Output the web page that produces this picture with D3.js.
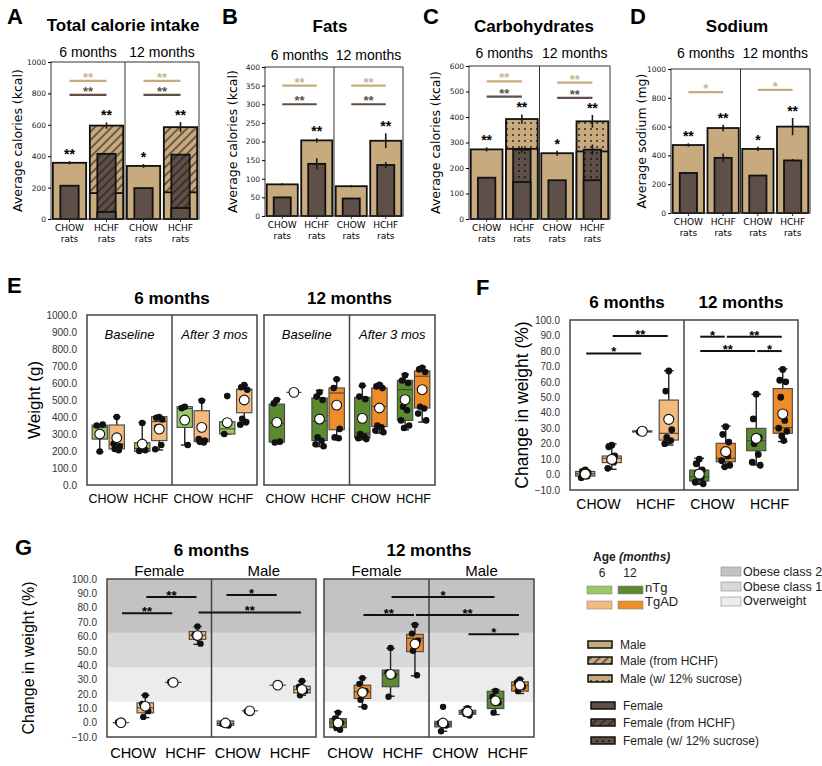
<!DOCTYPE html>
<html>
<head>
<meta charset="utf-8">
<script src="https://cdn.jsdelivr.net/npm/d3@7"></script>
<style>
  body { margin: 0; background: white; }
  svg { font-family: "Liberation Sans", Arial, sans-serif; }
</style>
</head>
<body>
<svg id="fig" width="822" height="766"></svg>
<script>
let edades = ["6 months", "12 months"];
let dietas = ["CHOW", "HCHF"];
let generos = ["nTg", "TgAD"];

// A-D: orden CHOW 6m, HCHF 6m, CHOW 12m, HCHF 12m
let totalMacho = [358, 595, 338, 585];
let totalMachoBase = [358, 165, 338, 170];
let totalMachoErr = [10, 20, 12, 32];
let totalHembra = [212, 415, 197, 410];
let totalHembraBase = [212, 45, 197, 70];
let totalHembraErr = [0, 0, 0, 0];
let totalEstrellas = ["**", "**", "*", "**"];
let totalSigMacho = [[880, "**"], [880, "**"]];
let totalSigHembra = [[790, "**"], [790, "**"]];

let grasaMacho = [85, 203, 80, 202];
let grasaMachoErr = [3, 6, 3, 20];
let grasaHembra = [50, 140, 47, 137];
let grasaHembraErr = [2, 15, 2, 8];
let grasaEstrellas = ["", "**", "", "**"];
let grasaSigMacho = [[350, "**"], [350, "**"]];
let grasaSigHembra = [[300, "**"], [300, "**"]];

let carbMacho = [273, 392, 258, 383];
let carbMachoBase = [273, 275, 258, 265];
let carbMachoErr = [8, 18, 10, 25];
let carbHembra = [162, 272, 152, 272];
let carbHembraBase = [162, 145, 152, 152];
let carbHembraErr = [3, 12, 0, 20];
let carbEstrellas = ["**", "**", "*", "**"];
let carbSigMacho = [[540, "**"], [535, "**"]];
let carbSigHembra = [[480, "**"], [475, "**"]];

let sodioMacho = [472, 590, 445, 600];
let sodioMachoErr = [12, 22, 15, 60];
let sodioHembra = [278, 383, 260, 365];
let sodioHembraErr = [0, 30, 0, 10];
let sodioEstrellas = ["**", "**", "*", "**"];
let sodioSigMacho = [[840, "*"], [855, "*"]];

// E-G: cajas [min, q1, mediana, q3, max, media]; orden CHOW-nTg, CHOW-TgAD, HCHF-nTg, HCHF-TgAD
let peso6Base = [[195, 270, 340, 352, 355, 300], [205, 212, 241, 353, 402, 278], [196, 198, 215, 249, 367, 241], [206, 261, 373, 402, 402, 329]];
let peso6BasePts = [[197, 350, 355], [400, 243, 228, 212, 205], [365, 200, 205], [400, 395, 385, 340, 235, 210]];
let peso6Desp = [[235, 339, 450, 461, 461, 382], [250, 255, 265, 437, 500, 339], [300, 300, 330, 372, 372, 367], [355, 425, 563, 563, 588, 500]];
let peso6DespPts = [[460, 452, 235], [495, 270, 262, 255, 250], [523, 300], [588, 575, 560, 390, 370, 355]];
let peso12Base = [[252, 252, 364, 476, 504, 368], [545, 545, 545, 545, 545, 545], [226, 262, 376, 512, 557, 388], [272, 325, 541, 571, 622, 470]];
let peso12BasePts = [[500, 480, 255, 250], [545], [545, 520, 500, 280, 260, 240, 228], [622, 570, 330, 280, 275]];
let peso12Desp = [[266, 278, 305, 516, 583, 392], [305, 344, 463, 571, 593, 453], [325, 380, 561, 616, 652, 502], [370, 453, 640, 671, 695, 561]];
let peso12DespPts = [[585, 520, 505, 300, 285, 275, 270], [590, 580, 570, 350, 340, 320, 310], [645, 615, 600, 460, 440, 380, 350, 335], [690, 680, 665, 460, 450, 420, 380]];

let cambio6 = [[-2, -1, 0.5, 2, 3, 0.3], [3.4, 7.7, 10.5, 12, 19.8, 9.8], [27.5, 27.5, 28, 28.2, 28.2, 28], [19.1, 22.3, 26.7, 48.2, 67.2, 35.7]];
let cambio6Pts = [[3, 2, 1, 0, -1, -2], [19, 18, 12, 10, 8, 4], [28, 27.5], [67, 54, 29, 24, 22, 20]];
let cambio12 = [[-6.3, -4.2, -1.4, 2.9, 10.5, 0.3], [5.1, 8.3, 10.5, 20.2, 31.4, 14.8], [6.2, 15.4, 21.9, 29.9, 51.9, 23.4], [21.3, 26.7, 30.3, 55.6, 68.3, 39.2]];
let cambio12Pts = [[10, 7, 3, 1, -2, -5, -6], [31, 26, 21, 15, 12, 9, 6, 5], [52, 36, 24, 20, 13, 8, 6], [68, 61, 60, 50, 35, 30, 28, 25, 22]];
// [sub, caja, sub, caja, valor, etiqueta]
let cambioSig = [[0, 0, 0, 2, 78.4, "*"], [0, 1, 0, 3, 89.6, "**"], [1, 0, 1, 1, 89.2, "*"], [1, 1, 1, 3, 89.2, "**"], [1, 0, 1, 2, 79.9, "**"], [1, 2, 1, 3, 79.9, "*"]];

let hembra6 = [[0, 0, 0, 0, 0, 0], [3.5, 6.8, 10.3, 13.8, 19.1, 11.4], [28, 28, 28, 28, 28, 28], [54.5, 58, 60.8, 63.4, 66.9, 60.6]];
let hembra6Pts = [[0, 0.3], [19, 13, 8, 4], [28, 28.3], [67, 61, 55]];
let macho6 = [[-1.9, -1.9, -0.5, 1.2, 1.2, -0.2], [8.2, 8.2, 8.2, 8.2, 8.2, 8.2], [26.1, 26.1, 26.1, 26.1, 26.1, 26.1], [19.1, 20.7, 23.1, 25.4, 28.9, 23.1]];
let macho6Pts = [[1, -1, -2], [8.2, 8], [26], [29, 25, 22, 19]];
let hembra12 = [[-5.4, -3.5, -0.2, 2.8, 7.5, -0.2], [11, 16.8, 21.4, 26.1, 31.2, 21], [18.4, 25, 33.8, 36.6, 51.7, 33.6], [32.6, 49.4, 58.7, 61.5, 68.5, 54.8]];
let hembra12Pts = [[7, 3, 0, -3, -5], [31, 27, 22, 16, 11], [52, 35, 33, 18], [68, 62, 57, 50, 33]];
let macho12 = [[-6, -3, -0.7, 0.9, 0.9, -0.2], [5.1, 5.8, 7.2, 8.6, 11, 7.4], [5.6, 9.8, 16.8, 21.9, 23, 15.2], [20.3, 21.9, 26.1, 28.4, 30.3, 26]];
let macho12Pts = [[11, 0, -2, -6], [10, 8, 7, 6, 5], [22, 18, 14, 7], [30, 28, 25, 22]];
let sexoSig6 = [[0, 0, 0, 2, 76.2, "**"], [0, 1, 0, 3, 87.4, "**"], [1, 0, 1, 2, 88.8, "*"], [0, 3, 1, 3, 76.7, "**"]];
let sexoSig12 = [[0, 2, 1, 2, 87.4, "*"], [0, 1, 0, 3, 75, "**"], [0, 3, 1, 3, 75, "**"], [1, 1, 1, 3, 61.5, "*"]];

let umbrales = [14.5, 38.5, 62.5, 100];
let clasesPeso = ["Overweight", "Obese class 1", "Obese class 2"];
let leyendaDieta = ["Male", "Male (from HCHF)", "Male (w/ 12% sucrose)", "Female", "Female (from HCHF)", "Female (w/ 12% sucrose)"];

let tan = "#c8aa7f", cafe = "#5e5048";
let claro = ["#9cc866", "#f4b97c"], oscuro = ["#5c8a30", "#ee8c29"];
let grises = ["#ececec", "#d8d8d8", "#c3c3c3"];
let desvio = [0, -3, 3, -2, 2, -4, 4, -1, 1];

let svg = d3.select("#fig");
svg.append("rect").attr("width", 822).attr("height", 766).attr("fill", "white");
let defs = svg.append("defs");

function patron(id, fondo, tinta, tipo) {
    let p = defs.append("pattern").attr("id", id)
        .attr("patternUnits", "userSpaceOnUse")
        .attr("width", 6).attr("height", 6);
    p.append("rect").attr("width", 6).attr("height", 6).attr("fill", fondo);
    if (tipo == "rayas") {
        p.attr("patternTransform", "rotate(45)");
        p.append("line").attr("x1", 1).attr("x2", 1).attr("y1", 0).attr("y2", 6)
            .attr("stroke", tinta).attr("stroke-width", 1.2);
    } else {
        p.append("circle").attr("cx", 3).attr("cy", 3).attr("r", 0.9).attr("fill", tinta);
    }
}
patron("rayasM", tan, "#2e251f", "rayas");
patron("rayasH", cafe, "#241c17", "rayas");
patron("puntosM", tan, "#1e1814", "puntos");
patron("puntosH", cafe, "#120e0b", "puntos");

let paneles = [
    {letra: "A", letraX: 7, titulo: "Total calorie intake", tituloX: 123, tituloY: 31, edadY: 57,
     ylab: "Average calories (kcal)", ylabX: 18, x0: 51, x1: 199, yt: 62, yb: 219, max: 1000, paso: 200,
     macho: totalMacho, machoBase: totalMachoBase, machoErr: totalMachoErr,
     hembra: totalHembra, hembraBase: totalHembraBase, hembraErr: totalHembraErr,
     estrellas: totalEstrellas, sigM: totalSigMacho, sigH: totalSigHembra, relleno: "rayas"},
    {letra: "B", letraX: 222, titulo: "Fats", tituloX: 330, tituloY: 32, edadY: 60,
     ylab: "Average calories (kcal)", ylabX: 233, x0: 265, x1: 403, yt: 67, yb: 216, max: 400, paso: 50,
     macho: grasaMacho, machoBase: null, machoErr: grasaMachoErr,
     hembra: grasaHembra, hembraBase: null, hembraErr: grasaHembraErr,
     estrellas: grasaEstrellas, sigM: grasaSigMacho, sigH: grasaSigHembra},
    {letra: "C", letraX: 423, titulo: "Carbohydrates", tituloX: 534, tituloY: 32, edadY: 58,
     ylab: "Average calories (kcal)", ylabX: 436, x0: 469, x1: 610, yt: 66, yb: 219, max: 600, paso: 100,
     macho: carbMacho, machoBase: carbMachoBase, machoErr: carbMachoErr,
     hembra: carbHembra, hembraBase: carbHembraBase, hembraErr: carbHembraErr,
     estrellas: carbEstrellas, sigM: carbSigMacho, sigH: carbSigHembra, relleno: "puntos"},
    {letra: "D", letraX: 630, titulo: "Sodium", tituloX: 737, tituloY: 32, edadY: 58,
     ylab: "Average sodium (mg)", ylabX: 642, x0: 671, x1: 810, yt: 69, yb: 213, max: 1000, paso: 200,
     macho: sodioMacho, machoBase: null, machoErr: sodioMachoErr,
     hembra: sodioHembra, hembraBase: null, hembraErr: sodioHembraErr,
     estrellas: sodioEstrellas, sigM: sodioSigMacho, sigH: null}
];

function panelBarras(p) {
    let g = svg.append("g");
    let y = d3.scaleLinear().domain([0, p.max]).range([p.yb, p.yt]);
    let xe = d3.scaleBand().domain(edades).range([p.x0, p.x1]);
    let xd = d3.scaleBand().domain(dietas).range([0, xe.bandwidth()])
        .paddingInner(0.1).paddingOuter(0.05);
    let cx = i => xe(edades[Math.floor(i / 2)]) + xd(dietas[i % 2]) + xd.bandwidth() / 2;

    g.append("text").attr("x", p.letraX).attr("y", 24).text(p.letra)
        .style("font-size", "22px").style("font-weight", "bold");
    g.append("text").attr("x", p.tituloX).attr("y", p.tituloY).text(p.titulo)
        .style("font-size", "17px").style("font-weight", "bold").style("text-anchor", "middle");

    g.selectAll(".edad").data(edades).enter().append("text")
        .attr("x", d => xe(d) + xe.bandwidth() / 2).attr("y", p.edadY)
        .text(d => d).style("font-size", "14px").style("text-anchor", "middle");

    g.append("text")
        .attr("transform", "translate(" + p.ylabX + "," + (p.yt + p.yb) / 2 + ") rotate(-90)")
        .attr("dy", "0.35em").text(p.ylab)
        .style("font-family", "DejaVu Sans").style("font-size", "12.5px").style("text-anchor", "middle");

    // barras: macho ancho, hembra angosta encima
    let capas = [
        {v: p.macho, base: p.machoBase, err: p.machoErr, ancho: xd.bandwidth(), color: tan, pat: p.relleno + "M"},
        {v: p.hembra, base: p.hembraBase, err: p.hembraErr, ancho: xd.bandwidth() * 0.55, color: cafe, pat: p.relleno + "H"}
    ];
    capas.forEach(c => {
        c.v.forEach((v, i) => {
            let conPatron = c.base && c.base[i] < v;
            g.append("rect")
                .attr("x", cx(i) - c.ancho / 2).attr("y", y(v))
                .attr("width", c.ancho).attr("height", y(0) - y(v))
                .style("fill", conPatron ? "url(#" + c.pat + ")" : c.color)
                .style("stroke", "#111").style("stroke-width", 1.8);
            if (conPatron) {
                g.append("rect")
                    .attr("x", cx(i) - c.ancho / 2).attr("y", y(c.base[i]))
                    .attr("width", c.ancho).attr("height", y(0) - y(c.base[i]))
                    .style("fill", c.color).style("stroke", "#111").style("stroke-width", 1.8);
            }
            if (c.err[i] > 0) {
                g.append("line").attr("x1", cx(i)).attr("x2", cx(i))
                    .attr("y1", y(v - c.err[i])).attr("y2", y(v + c.err[i]))
                    .style("stroke", "#1a1a1a").style("stroke-width", 1.6);
            }
        });
    });

    p.estrellas.forEach((s, i) => {
        g.append("text").attr("x", cx(i)).attr("y", y(p.macho[i] + p.machoErr[i]) - 2)
            .text(s).style("font-size", "14px").style("font-weight", "bold").style("text-anchor", "middle");
    });

    [[p.sigM, tan, "#cbb48f"], [p.sigH, cafe, cafe]].forEach(([sig, col, colTxt]) => {
        if (!sig) return;
        sig.forEach((d, a) => {
            g.append("line").attr("x1", cx(2 * a)).attr("x2", cx(2 * a + 1))
                .attr("y1", y(d[0])).attr("y2", y(d[0]))
                .style("stroke", col).style("stroke-width", 2.2);
            g.append("text").attr("x", (cx(2 * a) + cx(2 * a + 1)) / 2).attr("y", y(d[0]) + 1)
                .text(d[1]).style("fill", colTxt).style("font-size", "13px")
                .style("font-weight", "bold").style("text-anchor", "middle");
        });
    });

    g.append("rect").attr("x", p.x0).attr("y", p.yt)
        .attr("width", p.x1 - p.x0).attr("height", p.yb - p.yt)
        .style("fill", "none").style("stroke", "#333").style("stroke-width", 1);
    g.append("line").attr("x1", xe(edades[1])).attr("x2", xe(edades[1]))
        .attr("y1", p.yt).attr("y2", p.yb).style("stroke", "#333").style("stroke-width", 1);

    let eje = g.append("g").attr("transform", "translate(" + p.x0 + ",0)")
        .call(d3.axisLeft(y).tickValues(d3.range(0, p.max + 1, p.paso))
            .tickFormat(d3.format("d")).tickSize(3).tickPadding(2));
    eje.select(".domain").remove();
    eje.selectAll("text").style("font-family", "DejaVu Sans").style("font-size", "7.5px").style("fill", "#222");

    d3.range(4).forEach(i => {
        g.append("line").attr("x1", cx(i)).attr("x2", cx(i)).attr("y1", p.yb).attr("y2", p.yb + 3)
            .style("stroke", "#333");
        let t = g.append("text").attr("x", cx(i)).attr("y", p.yb + 12)
            .style("font-family", "DejaVu Sans").style("font-size", "9px").style("text-anchor", "middle");
        t.append("tspan").attr("x", cx(i)).text(dietas[i % 2]);
        t.append("tspan").attr("x", cx(i)).attr("dy", 11).text("rats");
    });
}
paneles.forEach(panelBarras);

// E-G
let cajasPaneles = [
    {x0: 87, x1: 257, yt: 315, yb: 485, dominio: [0, 1000], ticks: d3.range(0, 1001, 100), ejeY: true,
     titulo: "6 months", tituloY: 304, etiquetaX: 503, tamX: 12.5, subEstilo: "dentro",
     pin: 0.1, pout: 0.3, ancho: 1, radio: 3.3,
     subs: [{nombre: "Baseline", cajas: peso6Base, puntos: peso6BasePts, colores: claro},
            {nombre: "After 3 mos", cajas: peso6Desp, puntos: peso6DespPts, colores: claro}]},
    {x0: 264, x1: 435, yt: 315, yb: 485, dominio: [0, 1000], ticks: [], ejeY: false,
     titulo: "12 months", tituloY: 304, etiquetaX: 503, tamX: 12.5, subEstilo: "dentro",
     pin: 0.1, pout: 0.3, ancho: 1, radio: 3.3,
     subs: [{nombre: "Baseline", cajas: peso12Base, puntos: peso12BasePts, colores: oscuro},
            {nombre: "After 3 mos", cajas: peso12Desp, puntos: peso12DespPts, colores: oscuro}]},
    {x0: 570, x1: 798, yt: 320, yb: 490, dominio: [-10, 100], ticks: d3.range(-10, 101, 10), ejeY: true,
     titulo: null, etiquetaX: 509, tamX: 14, subEstilo: "negrita",
     pin: 0.15, pout: 0.15, ancho: 0.85, radio: 3.4, sig: cambioSig,
     subs: [{nombre: "6 months", cajas: cambio6, puntos: cambio6Pts, colores: claro},
            {nombre: "12 months", cajas: cambio12, puntos: cambio12Pts, colores: oscuro}]},
    {x0: 107, x1: 316, yt: 579, yb: 737, dominio: [-10, 100], ticks: d3.range(-10, 101, 10), ejeY: true,
     titulo: "6 months", tituloY: 556, etiquetaX: 758, tamX: 14.5, subEstilo: "arriba", bandas: true,
     pin: 0.15, pout: 0.15, ancho: 0.8, radio: 3.2, sig: sexoSig6,
     subs: [{nombre: "Female", cajas: hembra6, puntos: hembra6Pts, colores: claro},
            {nombre: "Male", cajas: macho6, puntos: macho6Pts, colores: claro}]},
    {x0: 324, x1: 534, yt: 579, yb: 737, dominio: [-10, 100], ticks: [], ejeY: false,
     titulo: "12 months", tituloY: 556, etiquetaX: 758, tamX: 14.5, subEstilo: "arriba", bandas: true,
     pin: 0.15, pout: 0.15, ancho: 0.8, radio: 3.2, sig: sexoSig12,
     subs: [{nombre: "Female", cajas: hembra12, puntos: hembra12Pts, colores: oscuro},
            {nombre: "Male", cajas: macho12, puntos: macho12Pts, colores: oscuro}]}
];

function panelCajas(c) {
    let g = svg.append("g");
    let y = d3.scaleLinear().domain(c.dominio).range([c.yb, c.yt]);
    let xs = d3.scaleBand().domain(d3.range(c.subs.length)).range([c.x0, c.x1]);
    let xd = d3.scaleBand().domain(dietas).range([0, xs.bandwidth()]);
    let xg = d3.scaleBand().domain(generos).range([0, xd.bandwidth()])
        .paddingInner(c.pin).paddingOuter(c.pout);
    let cx = (s, i) => xs(s) + xd(dietas[Math.floor(i / 2)]) + xg(generos[i % 2]) + xg.bandwidth() / 2;
    let w = xg.bandwidth() * c.ancho;

    if (c.bandas) {
        d3.range(3).forEach(k => {
            g.append("rect").attr("x", c.x0).attr("width", c.x1 - c.x0)
                .attr("y", y(umbrales[k + 1])).attr("height", y(umbrales[k]) - y(umbrales[k + 1]))
                .style("fill", grises[k]);
        });
    }

    g.append("rect").attr("x", c.x0).attr("y", c.yt)
        .attr("width", c.x1 - c.x0).attr("height", c.yb - c.yt)
        .style("fill", "none").style("stroke", "#444").style("stroke-width", 1.5);
    d3.range(1, c.subs.length).forEach(s => {
        g.append("line").attr("x1", xs(s)).attr("x2", xs(s)).attr("y1", c.yt).attr("y2", c.yb)
            .style("stroke", "#444").style("stroke-width", 1.5);
    });

    if (c.titulo) {
        g.append("text").attr("x", (c.x0 + c.x1) / 2).attr("y", c.tituloY).text(c.titulo)
            .style("font-size", "17px").style("font-weight", "bold").style("text-anchor", "middle");
    }

    c.subs.forEach((sub, s) => {
        let mx = xs(s) + xs.bandwidth() / 2;
        let t = g.append("text").attr("x", mx).text(sub.nombre).style("text-anchor", "middle");
        if (c.subEstilo == "dentro") t.attr("y", c.yt + 24).style("font-size", "13px").style("font-style", "italic");
        else if (c.subEstilo == "negrita") t.attr("y", c.yt - 12).style("font-size", "17px").style("font-weight", "bold");
        else t.attr("y", c.yt - 3).style("font-size", "15px");

        dietas.forEach(d => {
            g.append("text").attr("x", xs(s) + xd(d) + xd.bandwidth() / 2).attr("y", c.etiquetaX)
                .text(d).style("font-size", c.tamX + "px").style("text-anchor", "middle");
        });

        sub.cajas.forEach((b, i) => {
            let x = cx(s, i);
            let col = sub.colores[i % 2];
            let caja = g.append("g");
            caja.append("line").attr("x1", x).attr("x2", x).attr("y1", y(b[0])).attr("y2", y(b[1]))
                .style("stroke", "#222").style("stroke-width", 1.4);
            caja.append("line").attr("x1", x).attr("x2", x).attr("y1", y(b[3])).attr("y2", y(b[4]))
                .style("stroke", "#222").style("stroke-width", 1.4);
            [b[0], b[4]].forEach(v => {
                caja.append("line").attr("x1", x - w / 4).attr("x2", x + w / 4)
                    .attr("y1", y(v)).attr("y2", y(v))
                    .style("stroke", "#222").style("stroke-width", 1.4);
            });
            caja.append("rect").attr("x", x - w / 2).attr("y", y(b[3]))
                .attr("width", w).attr("height", y(b[1]) - y(b[3]))
                .style("fill", col).style("stroke", "#444").style("stroke-width", 1.1);
            caja.append("line").attr("x1", x - w / 2).attr("x2", x + w / 2)
                .attr("y1", y(b[2])).attr("y2", y(b[2]))
                .style("stroke", "#444").style("stroke-width", 1.1);

            caja.selectAll(".pt").data(sub.puntos[i]).enter().append("circle")
                .attr("cx", (d, j) => x + desvio[j % desvio.length])
                .attr("cy", d => y(d)).attr("r", c.radio)
                .style("fill", "#111");

            caja.append("circle").attr("cx", x).attr("cy", y(b[5])).attr("r", c.radio + 1.6)
                .style("fill", "white").style("stroke", "#111").style("stroke-width", 1.1);
        });
    });

    if (c.sig) {
        c.sig.forEach(d => {
            let xa = cx(d[0], d[1]) + 1, xb = cx(d[2], d[3]) - 1;
            g.append("line").attr("x1", xa).attr("x2", xb).attr("y1", y(d[4])).attr("y2", y(d[4]))
                .style("stroke", "#111").style("stroke-width", 2);
            g.append("text").attr("x", (xa + xb) / 2).attr("y", y(d[4]) + 3).text(d[5])
                .style("font-size", "13px").style("font-weight", "bold").style("text-anchor", "middle");
        });
    }

    if (c.ejeY) {
        let eje = g.append("g").attr("transform", "translate(" + c.x0 + ",0)")
            .call(d3.axisLeft(y).tickValues(c.ticks).tickFormat(d3.format(".1f")).tickSize(0).tickPadding(10));
        eje.select(".domain").remove();
        eje.selectAll("text").style("font-family", "Liberation Sans").style("font-size", "10px").style("fill", "#333");
    }
}
cajasPaneles.forEach(panelCajas);

// letras y ejes Y de E-G
[["E", 7, 293], ["F", 476, 295], ["G", 15, 555]].forEach(d => {
    svg.append("text").attr("x", d[1]).attr("y", d[2]).text(d[0])
        .style("font-size", "22px").style("font-weight", "bold");
});
[["Weight (g)", 34, 400, 17], ["Change in weight (%)", 522, 405, 17.5], ["Change in weight (%)", 28, 658, 16]].forEach(d => {
    svg.append("text")
        .attr("transform", "translate(" + d[1] + "," + d[2] + ") rotate(-90)")
        .attr("dy", "0.35em").text(d[0])
        .style("font-size", d[3] + "px").style("text-anchor", "middle");
});

// leyenda
let ley = svg.append("g").style("font-size", "12px").style("fill", "#222");
let tt = ley.append("text").attr("x", 593).attr("y", 561).style("font-weight", "bold");
tt.append("tspan").text("Age ");
tt.append("tspan").style("font-style", "italic").text("(months)");
ley.append("text").attr("x", 602).attr("y", 577).text("6").style("text-anchor", "middle");
ley.append("text").attr("x", 630).attr("y", 577).text("12").style("text-anchor", "middle");
generos.forEach((gen, k) => {
    [claro, oscuro].forEach((pal, e) => {
        ley.append("rect").attr("x", 587 + e * 31).attr("y", 586 + k * 15)
            .attr("width", 25).attr("height", 8)
            .style("fill", pal[k]).style("stroke", "#888").style("stroke-width", 0.6);
    });
    ley.append("text").attr("x", 645).attr("y", 592 + k * 14).text(gen).style("font-size", "13px");
});
clasesPeso.slice().reverse().forEach((nombre, k) => {
    ley.append("rect").attr("x", 721).attr("y", 567 + k * 15).attr("width", 20).attr("height", 9)
        .style("fill", grises[2 - k]).style("stroke", "#999").style("stroke-width", 0.7);
    ley.append("text").attr("x", 743).attr("y", 576 + k * 14.5).text(nombre).style("font-size", "12.5px");
});
let rellenos = [tan, "url(#rayasM)", "url(#puntosM)", cafe, "url(#rayasH)", "url(#puntosH)"];
let filasY = [641, 657, 675, 702, 719, 737];
leyendaDieta.forEach((nombre, k) => {
    let xs = k < 3 ? 588 : 591;
    ley.append("rect").attr("x", xs).attr("y", filasY[k]).attr("width", 24).attr("height", 7)
        .style("fill", rellenos[k]).style("stroke", "#111").style("stroke-width", 1.5);
    ley.append("text").attr("x", xs + 32).attr("y", filasY[k] + 7.5).text(nombre);
});
</script>
</body>
</html>
